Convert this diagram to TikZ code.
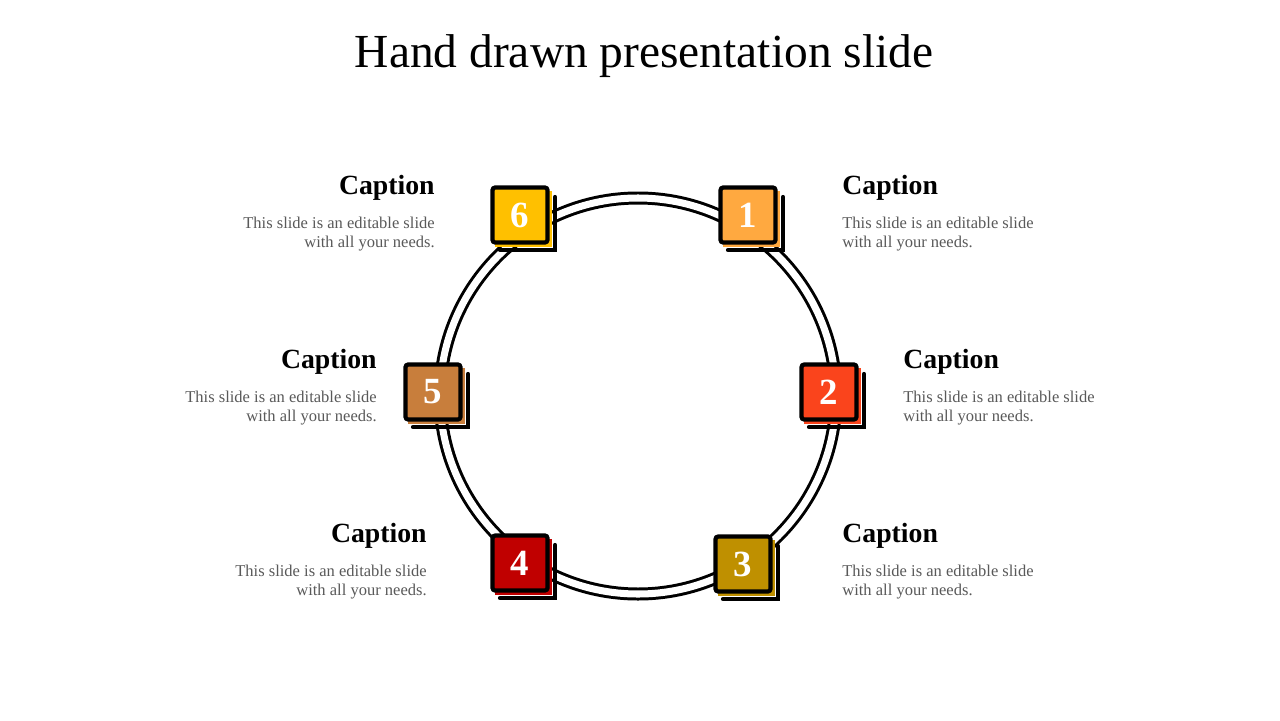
\documentclass[tikz,border=0pt]{standalone}
\usepackage{fontspec}
\setmainfont{Liberation Serif}
\usepackage{tikz}
\usetikzlibrary{positioning}
\usepackage{xcolor}
\definecolor{boxone}{RGB}{255,169,64}
\definecolor{boxtwo}{RGB}{250,68,28}
\definecolor{boxthree}{RGB}{191,144,0}
\definecolor{boxfour}{RGB}{192,0,0}
\definecolor{boxfive}{RGB}{200,126,60}
\definecolor{boxsix}{RGB}{255,192,0}
\definecolor{bodygray}{RGB}{89,89,89}
\tikzset{
  numbox/.style={draw=black,line width=2.4pt,rounded corners=1.5pt,minimum size=1.1cm,
    inner sep=0pt,text=white,font=\fontsize{21}{21}\selectfont\bfseries},
  captitle/.style={inner sep=0pt,font=\fontsize{15.8}{18}\selectfont\bfseries},
  capbody/.style={inner sep=0pt,text=bodygray,font=\fontsize{9.4}{10.8}\selectfont},
}

\begin{document}
\begin{tikzpicture}[x=0.02cm,y=-0.02cm]
        \useasboundingbox[fill=white] (0,0) rectangle (1280,720);
        \node[inner sep=0pt,anchor=base,font=\fontsize{27}{30}\selectfont] (title) at (644,67) {Hand drawn presentation slide};
        % double ring
        \draw[line width=1.7pt,double=white,double distance=4pt] (638,396) circle (198);
        % numbered boxes
        \foreach \n/\x/\y/\col in {1/748/215/boxone,2/829/392/boxtwo,3/743/564/boxthree,
                                   4/520/563/boxfour,5/433/392/boxfive,6/520/215/boxsix}{
          \fill[\col] (\x-25,\y-24) rectangle (\x+32,\y+32);
          \draw[line width=2.4pt,line cap=round] (\x+35,\y-18) -- (\x+35,\y+35) -- (\x-20,\y+35);
          \node[numbox,fill=\col] (b\n) at (\x,\y) {\n};
        }
        % captions, left side
        \foreach \n/\x/\y in {6/435/194,5/377/368,4/427/542}{
          \node[captitle,anchor=base east] (c\n) at (\x,\y) {Caption};
          \node[capbody,anchor=north east,align=right] (t\n) at (\x,\y+23) {This slide is an editable slide\\with all your needs.};
        }
        % captions, right side
        \foreach \n/\x/\y in {1/842/194,2/903/368,3/842/542}{
          \node[captitle,anchor=base west] (c\n) at (\x,\y) {Caption};
          \node[capbody,anchor=north west,align=left] (t\n) at (\x,\y+23) {This slide is an editable slide\\with all your needs.};
        }
      \end{tikzpicture}
\end{document}
